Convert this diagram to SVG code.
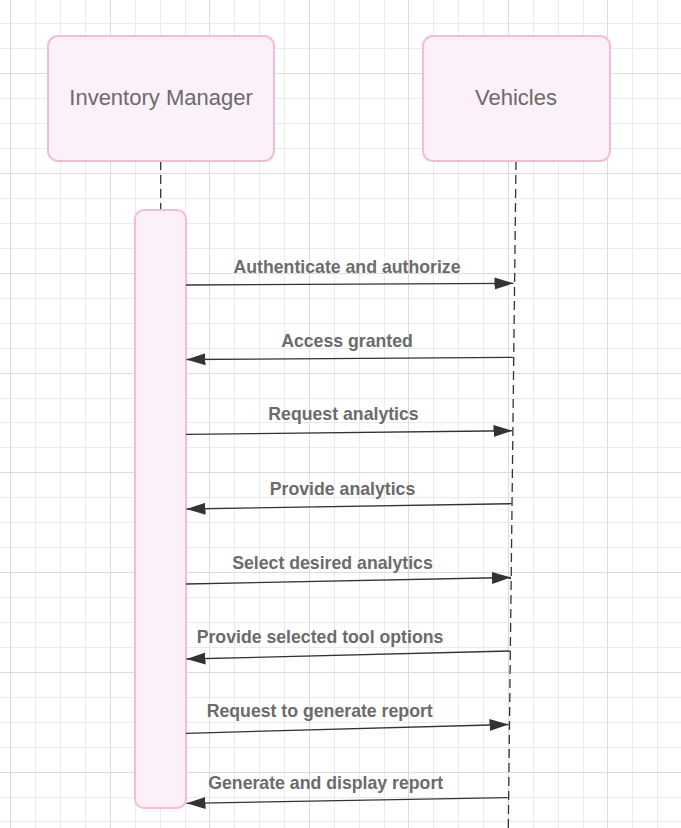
<svg xmlns="http://www.w3.org/2000/svg" width="681" height="828" viewBox="0 0 681 828">
  <defs>
    <marker id="ah" markerUnits="userSpaceOnUse" markerWidth="20" markerHeight="14" refX="19" refY="6.5" orient="auto">
      <path d="M0,0.5 L19,6.5 L0,12.5 z" fill="#333333"/>
    </marker>
  </defs>
  <style>
    .minor { stroke: #ebebeb; stroke-width: 1; fill: none; }
    .major { stroke: #dcdcdc; stroke-width: 1; fill: none; }
    .box { fill: #fcf0f9; stroke: #f5bcd6; stroke-width: 2; }
    .title { font-family: "Liberation Sans", Arial, sans-serif; font-size: 22px; fill: #6b6b6b; text-anchor: middle; }
    .lbl { font-family: "Liberation Sans", Arial, sans-serif; font-size: 17.7px; font-weight: bold; fill: #6b6b6b; text-anchor: middle; }
    .life { stroke: #333333; stroke-width: 1.3; stroke-dasharray: 9 5; fill: none; }
    .msg { stroke: #333333; stroke-width: 1.3; fill: none; marker-end: url(#ah); }
  </style>
  <rect x="0" y="0" width="681" height="828" fill="#ffffff"/>
  <g id="grid">
    <path class="minor" d="M35.5,0V828M60.5,0V828M85.5,0V828M135.5,0V828M160.5,0V828M185.5,0V828M234.5,0V828M259.5,0V828M284.5,0V828M334.5,0V828M359.5,0V828M384.5,0V828M433.5,0V828M458.5,0V828M483.5,0V828M533.5,0V828M558.5,0V828M583.5,0V828M632.5,0V828M657.5,0V828
      M0,23.5H681M0,48.5H681M0,98.5H681M0,123.5H681M0,148.5H681M0,198.5H681M0,223.5H681M0,248.5H681M0,298.5H681M0,323.5H681M0,348.5H681M0,398.5H681M0,422.5H681M0,447.5H681M0,497.5H681M0,522.5H681M0,547.5H681M0,597.5H681M0,622.5H681M0,647.5H681M0,697.5H681M0,722.5H681M0,747.5H681M0,797.5H681M0,821.5H681"/>
    <path class="major" d="M10.5,0V828M110.5,0V828M209.5,0V828M309.5,0V828M408.5,0V828M508.5,0V828M607.5,0V828
      M0,73.5H681M0,173.5H681M0,273.5H681M0,373.5H681M0,472.5H681M0,572.5H681M0,672.5H681M0,772.5H681"/>
  </g>
  <g id="lifelines">
    <path class="life" d="M160.7,161 L160.7,809"/>
    <path class="life" d="M516,161 L508.3,828"/>
  </g>
  <g id="inventory-manager">
    <rect class="box" x="48" y="36" width="226" height="125" rx="10"/>
    <text class="title" x="161" y="105">Inventory Manager</text>
  </g>
  <g id="vehicles">
    <rect class="box" x="423" y="36" width="187" height="125" rx="10"/>
    <text class="title" x="516" y="105">Vehicles</text>
  </g>
  <g id="activation">
    <rect class="box" x="135" y="210" width="51" height="598" rx="9"/>
  </g>
  <g id="connectors">
    <path class="msg" d="M186,285 L513.5,283.3"/>
    <path class="msg" d="M513,357.3 L186.5,359.5"/>
    <path class="msg" d="M186,434.3 L512.5,430.7"/>
    <path class="msg" d="M511.7,503.7 L186.5,509"/>
    <path class="msg" d="M186,584 L511,577.5"/>
    <path class="msg" d="M510,651 L186.5,659"/>
    <path class="msg" d="M186,733.3 L508.5,724.5"/>
    <path class="msg" d="M507.7,797.7 L186.5,803.3"/>
    <text class="lbl" x="347" y="272.5">Authenticate and authorize</text>
    <text class="lbl" x="347" y="347">Access granted</text>
    <text class="lbl" x="343.5" y="420">Request analytics</text>
    <text class="lbl" x="342.5" y="494.5">Provide analytics</text>
    <text class="lbl" x="332.5" y="568.5">Select desired analytics</text>
    <text class="lbl" x="320" y="643">Provide selected tool options</text>
    <text class="lbl" x="319.7" y="717">Request to generate report</text>
    <text class="lbl" x="325.7" y="788.5">Generate and display report</text>
  </g>
</svg>
